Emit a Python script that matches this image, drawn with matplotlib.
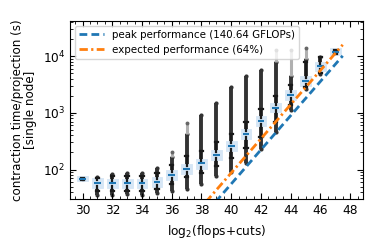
import numpy as np
import matplotlib
matplotlib.use('Agg')
import matplotlib.pyplot as plt
from matplotlib.ticker import MultipleLocator

# bins of log2(flops+cuts)
posicoes = [30, 31, 32, 33, 34, 35, 36, 37, 38, 39, 40, 41, 42, 43, 44, 45, 46, 47]

# box statistics per bin (seconds)
mediana = [69, 58, 57, 57, 57, 61, 79, 104, 128, 179, 260, 420, 710, 1240, 2040, 3600, 6600, 12000]
q1 = [67, 52, 51, 51, 51, 54, 70, 92, 113, 158, 230, 372, 628, 1100, 1800, 3200, 6000, 11300]
q3 = [71, 65, 64, 64, 64, 69, 89, 117, 144, 202, 293, 473, 800, 1400, 2300, 4050, 7300, 12600]
whis_baixo = [66, 42, 42, 42, 42, 45, 56, 74, 86, 115, 160, 240, 380, 700, 1350, 2900, 5000, 11000]
whis_alto = [72, 72, 76, 77, 78, 86, 118, 170, 215, 300, 420, 680, 1150, 2000, 3100, 7900, 9600, 13000]

# extent of the outlier columns (dense part, then sparse tail)
outlier_baixo = [np.nan, 36, 36, 37, 36, 38, 42, 46, 56, 78, 91, 128, 230, 460, 1120, 2680, 4900, np.nan]
outlier_alto = [np.nan, 73, 85, 86, 88, 107, 165, 420, 900, 1500, 2800, 4500, 5600, 7900, 4500, 9000, 9800, np.nan]
outlier_topo = [np.nan, np.nan, np.nan, np.nan, np.nan, np.nan, 205, 650, np.nan, np.nan, np.nan, np.nan,
                np.nan, 13000, 13000, 13600, np.nan, np.nan]

# reference lines (two end points each)
linha_x = [36, 47.5]
pico_y = [3.5, 1.01e4]
esperado_y = [5.47, 1.58e4]

AZUL = '#1f77b4'
LARANJA = '#ff7f0e'

plt.rcParams['font.family'] = 'DejaVu Sans'

fig = plt.figure(figsize=(3.74, 2.46), dpi=100)
ax = fig.add_axes([0.187, 0.19, 0.783, 0.726])

# outlier columns first, so the boxes sit on top
for x, lo, hi, top in zip(posicoes, outlier_baixo, outlier_alto, outlier_topo):
    if np.isnan(lo):
        continue
    ax.vlines(x, lo, hi, color='#333333', lw=2.8, zorder=1)
    ax.plot([x, x], [lo, hi], 'o', ms=3, color='#333333', mec='none', zorder=1)
    if not np.isnan(top):
        ax.vlines(x, hi, top, color='#b0b0b0', lw=2.2, zorder=1)
        ax.plot(x, top, 'o', ms=2.8, color='#666666', mec='none', zorder=1)

stats = []
for i in range(len(posicoes)):
    stats.append({
        'med': mediana[i], 'q1': q1[i], 'q3': q3[i],
        'whislo': whis_baixo[i], 'whishi': whis_alto[i], 'fliers': [],
    })

ax.bxp(stats, positions=posicoes, widths=0.45, patch_artist=True, showfliers=False,
       boxprops=dict(facecolor='#d6e6f5', edgecolor='#d6e6f5', linewidth=3.5),
       medianprops=dict(color=AZUL, linewidth=1.5),
       whiskerprops=dict(color='#1a1a1a', linewidth=1.6),
       capprops=dict(color='#1a1a1a', linewidth=1.6),
       manage_ticks=False)

ax.plot(linha_x, pico_y, color=AZUL, lw=2, dashes=(2.8, 1.5),
        label='peak performance (140.64 GFLOPs)', zorder=3)
ax.plot(linha_x, esperado_y, color=LARANJA, lw=2, dashes=(3, 1.2, 0.8, 1.2),
        label='expected performance (64%)', zorder=3)

ax.set_yscale('log')
ax.set_xlim(29.15, 48.85)
ax.set_ylim(30, 4.2e4)
ax.xaxis.set_major_locator(MultipleLocator(2))
ax.xaxis.set_minor_locator(MultipleLocator(0.5))
ax.tick_params(which='both', direction='in', top=True, right=True, labelsize=8.7)
ax.tick_params(which='major', length=4)
ax.tick_params(which='minor', length=2)

ax.set_xlabel(r'log$_2$(flops+cuts)', fontsize=8.7)
ax.set_ylabel('contraction time/projection (s)\n[single node]', fontsize=8.6, linespacing=1.0)

ax.legend(loc='upper left', fontsize=7.4, handlelength=2.4)

fig.savefig('out.png', dpi=100)
